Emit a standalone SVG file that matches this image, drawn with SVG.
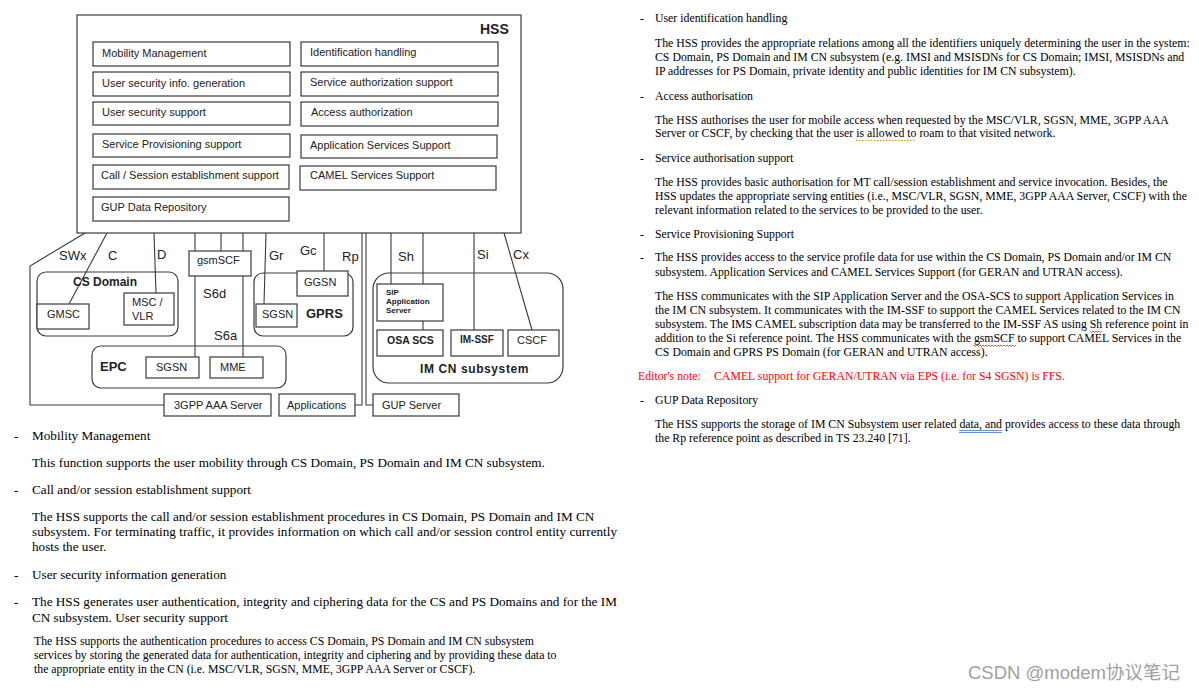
<svg xmlns="http://www.w3.org/2000/svg" width="1199" height="691" viewBox="0 0 1199 691">
<style>
.bx{fill:#fff;stroke:#3a3a3a;stroke-width:1.2}
.rr{fill:none;stroke:#3a3a3a;stroke-width:1.2}
.ln{fill:none;stroke:#3a3a3a;stroke-width:1.1}
.t{font-family:"Liberation Sans",Arial,sans-serif;font-size:11px;fill:#222}
.lb{font-family:"Liberation Sans",Arial,sans-serif;font-size:13px;fill:#222}
.b{font-family:"Liberation Sans",Arial,sans-serif;font-weight:bold;fill:#222}
.p{font-family:"Liberation Serif","Times New Roman",serif;font-size:13.2px;fill:#000}
.ps{font-family:"Liberation Serif","Times New Roman",serif;font-size:11.8px;fill:#000}
.red{fill:#ff0000}
.dot{fill:none;stroke:#c89a00;stroke-width:1;stroke-dasharray:1.5 1.5}
.wav{fill:none;stroke:#e03030;stroke-width:0.8}
.dbl{fill:none;stroke:#4a78c8;stroke-width:0.8}
</style>
<rect width="1199" height="691" fill="#fff"/>

<g id="connectors">
<path class="ln" d="M85,233 L30,266 L30,405 L164,405"/>
<path class="ln" d="M107,233 L69,304"/>
<path class="ln" d="M154,233 L156,293"/>
<path class="ln" d="M221,233 L221,251"/>
<path class="ln" d="M195,233 L195,357"/>
<path class="ln" d="M243,233 L243,357"/>
<path class="ln" d="M266,233 L264,304"/>
<path class="ln" d="M324,233 L324,271"/>
<path class="ln" d="M362,233 L362,405 L355,405"/>
<path class="ln" d="M366,233 L366,405 L373,405"/>
<path class="ln" d="M391,233 L391,284"/>
<path class="ln" d="M423,233 L423,330"/>
<path class="ln" d="M474,233 L474,330"/>
<path class="ln" d="M504,233 L532,330"/>
<text class="lb" x="59" y="260">SWx</text>
<text class="lb" x="108" y="260">C</text>
<text class="lb" x="157" y="259">D</text>
<text class="lb" x="269" y="260">Gr</text>
<text class="lb" x="300" y="255">Gc</text>
<text class="lb" x="342" y="261">Rp</text>
<text class="lb" x="398" y="261">Sh</text>
<text class="lb" x="477" y="259">Si</text>
<text class="lb" x="513" y="259">Cx</text>
<text class="lb" x="203" y="298">S6d</text>
<text class="lb" x="214" y="340">S6a</text>
</g>

<g id="hss">
<rect class="bx" x="77" y="15" width="444" height="218" fill="none"/>
<text class="b" x="480" y="34" font-size="14">HSS</text>
</g>
<g id="mobility-management"><rect class="bx" x="93" y="42" width="197" height="24"/><text class="t" x="102" y="57">Mobility Management</text></g>
<g id="user-security-info-generation"><rect class="bx" x="93" y="72" width="197" height="24"/><text class="t" x="102" y="87">User security info. generation</text></g>
<g id="user-security-support"><rect class="bx" x="93" y="102" width="197" height="23"/><text class="t" x="102" y="116">User security support</text></g>
<g id="service-provisioning-support"><rect class="bx" x="93" y="134" width="197" height="23"/><text class="t" x="102" y="148">Service Provisioning support</text></g>
<g id="call-session-establishment"><rect class="bx" x="93" y="165" width="196" height="24"/><text class="t" x="101" y="179">Call / Session establishment support</text></g>
<g id="gup-data-repository"><rect class="bx" x="93" y="197" width="196" height="24"/><text class="t" x="101" y="211">GUP Data Repository</text></g>
<g id="identification-handling"><rect class="bx" x="301" y="42" width="197" height="24"/><text class="t" x="310" y="56">Identification handling</text></g>
<g id="service-authorization-support"><rect class="bx" x="301" y="72" width="197" height="24"/><text class="t" x="310" y="86">Service authorization support</text></g>
<g id="access-authorization"><rect class="bx" x="301" y="102" width="197" height="24"/><text class="t" x="311" y="116">Access authorization</text></g>
<g id="application-services-support"><rect class="bx" x="301" y="135" width="196" height="23"/><text class="t" x="310" y="149">Application Services Support</text></g>
<g id="camel-services-support"><rect class="bx" x="300" y="166" width="196" height="24"/><text class="t" x="310" y="179">CAMEL Services Support</text></g>

<g id="cs-domain">
<rect class="rr" x="37" y="272" width="141" height="64" rx="9"/>
<text class="b" x="73" y="286" font-size="12">CS Domain</text>
</g>
<g id="gmsc"><rect class="bx" x="37" y="304" width="52" height="25"/><text class="t" x="47" y="318" font-size="10.5">GMSC</text></g>
<g id="msc-vlr"><rect class="bx" x="124" y="293" width="50" height="32"/><text class="t" x="132" y="306" font-size="10.5">MSC /</text><text class="t" x="132" y="320" font-size="10.5">VLR</text></g>
<g id="gsmscf"><rect class="bx" x="189" y="251" width="62" height="25" fill="none"/><text class="t" x="197" y="264">gsmSCF</text></g>

<g id="gprs">
<rect class="rr" x="254" y="273" width="99" height="63" rx="9"/>
<text class="b" x="306" y="318" font-size="13">GPRS</text>
</g>
<g id="ggsn"><rect class="bx" x="297" y="271" width="51" height="25"/><text class="t" x="304" y="286">GGSN</text></g>
<g id="sgsn-gprs"><rect class="bx" x="256" y="304" width="41" height="23"/><text class="t" x="262" y="318">SGSN</text></g>

<g id="epc">
<rect class="rr" x="92" y="346" width="194" height="42" rx="9"/>
<text class="b" x="100" y="371" font-size="13">EPC</text>
</g>
<g id="sgsn-epc"><rect class="bx" x="146" y="357" width="53" height="21"/><text class="t" x="156" y="371">SGSN</text></g>
<g id="mme"><rect class="bx" x="210" y="357" width="53" height="21"/><text class="t" x="220" y="371">MME</text></g>

<g id="aaa-server"><rect class="bx" x="164" y="394" width="107" height="22"/><text class="t" x="174" y="409">3GPP AAA Server</text></g>
<g id="applications"><rect class="bx" x="279" y="394" width="76" height="22"/><text class="t" x="287" y="409">Applications</text></g>
<g id="gup-server"><rect class="bx" x="373" y="394" width="86" height="22"/><text class="t" x="382" y="409">GUP Server</text></g>

<g id="im-cn-subsystem">
<rect class="rr" x="373" y="273" width="190" height="110" rx="16"/>
<text class="b" x="420" y="373" font-size="12" letter-spacing="0.6">IM CN subsystem</text>
</g>
<g id="sip-as"><rect class="bx" x="377" y="284" width="66" height="37" fill="none"/><text class="b" x="386" y="295" font-size="8">SIP</text><text class="b" x="386" y="304" font-size="8">Application</text><text class="b" x="386" y="313" font-size="8">Server</text></g>
<g id="osa-scs"><rect class="bx" x="377" y="330" width="66" height="26"/><text class="b" x="387" y="344" font-size="10.5">OSA SCS</text></g>
<g id="im-ssf"><rect class="bx" x="451" y="330" width="52" height="26"/><text class="b" x="460" y="343" font-size="10">IM-SSF</text></g>
<g id="cscf"><rect class="bx" x="508" y="330" width="51" height="26"/><text class="t" x="517" y="344" font-size="12">CSCF</text></g>

<g id="left-text">
<text class="p" x="14" y="440">-</text><text class="p" x="32" y="440">Mobility Management</text>
<text class="p" x="32" y="467">This function supports the user mobility through CS Domain, PS Domain and IM CN subsystem.</text>
<text class="p" x="14" y="494">-</text><text class="p" x="32" y="494">Call and/or session establishment support</text>
<text class="p" x="32" y="521">The HSS supports the call and/or session establishment procedures in CS Domain, PS Domain and IM CN</text>
<text class="p" x="32" y="536">subsystem. For terminating traffic, it provides information on which call and/or session control entity currently</text>
<text class="p" x="32" y="551">hosts the user.</text>
<text class="p" x="14" y="579">-</text><text class="p" x="32" y="579">User security information generation</text>
<text class="p" x="14" y="606">-</text><text class="p" x="32" y="606">The HSS generates user authentication, integrity and ciphering data for the CS and PS Domains and for the IM</text>
<text class="p" x="32" y="622">CN subsystem. User security support</text>
<text class="ps" x="34" y="645">The HSS supports the authentication procedures to access CS Domain, PS Domain and IM CN subsystem</text>
<text class="ps" x="34" y="659">services by storing the generated data for authentication, integrity and ciphering and by providing these data to</text>
<text class="ps" x="34" y="673">the appropriate entity in the CN (i.e. MSC/VLR, SGSN, MME, 3GPP AAA Server or CSCF).</text>
</g>

<g id="right-text">
<text class="ps" x="640" y="22">-</text><text class="ps" x="655" y="22">User identification handling</text>
<text class="ps" x="655" y="47">The HSS provides the appropriate relations among all the identifiers uniquely determining the user in the system:</text>
<text class="ps" x="655" y="61">CS Domain, PS Domain and IM CN subsystem (e.g. IMSI and MSISDNs for CS Domain; IMSI, MSISDNs and</text>
<text class="ps" x="655" y="75">IP addresses for PS Domain, private identity and public identities for IM CN subsystem).</text>
<text class="ps" x="640" y="100">-</text><text class="ps" x="655" y="100">Access authorisation</text>
<text class="ps" x="655" y="124">The HSS authorises the user for mobile access when requested by the MSC/VLR, SGSN, MME, 3GPP AAA</text>
<text class="ps" x="655" y="137">Server or CSCF, by checking that the user is allowed to roam to that visited network.</text>
<text class="ps" x="640" y="162">-</text><text class="ps" x="655" y="162">Service authorisation support</text>
<text class="ps" x="655" y="186">The HSS provides basic authorisation for MT call/session establishment and service invocation. Besides, the</text>
<text class="ps" x="655" y="200">HSS updates the appropriate serving entities (i.e., MSC/VLR, SGSN, MME, 3GPP AAA Server, CSCF) with the</text>
<text class="ps" x="655" y="214">relevant information related to the services to be provided to the user.</text>
<text class="ps" x="640" y="238">-</text><text class="ps" x="655" y="238">Service Provisioning Support</text>
<text class="ps" x="640" y="261">-</text><text class="ps" x="655" y="261">The HSS provides access to the service profile data for use within the CS Domain, PS Domain and/or IM CN</text>
<text class="ps" x="655" y="276">subsystem. Application Services and CAMEL Services Support (for GERAN and UTRAN access).</text>
<text class="ps" x="655" y="300">The HSS communicates with the SIP Application Server and the OSA-SCS to support Application Services in</text>
<text class="ps" x="655" y="314">the IM CN subsystem. It communicates with the IM-SSF to support the CAMEL Services related to the IM CN</text>
<text class="ps" x="655" y="328">subsystem. The IMS CAMEL subscription data may be transferred to the IM-SSF AS using Sh reference point in</text>
<text class="ps" x="655" y="342">addition to the Si reference point. The HSS communicates with the gsmSCF to support CAMEL Services in the</text>
<text class="ps" x="655" y="356">CS Domain and GPRS PS Domain (for GERAN and UTRAN access).</text>
<text class="ps red" x="638" y="380">Editor's note:</text><text class="ps red" x="714" y="380">CAMEL support for GERAN/UTRAN via EPS (i.e. for S4 SGSN) is FFS.</text>
<text class="ps" x="640" y="404">-</text><text class="ps" x="655" y="404">GUP Data Repository</text>
<text class="ps" x="655" y="428">The HSS supports the storage of IM CN Subsystem user related data, and provides access to these data through</text>
<text class="ps" x="655" y="442">the Rp reference point as described in TS 23.240 [71].</text>
</g>

<g id="proofing-marks">
<path class="dot" d="M856,140.5 H916"/>
<path class="wav" d="M1090,331 l1.5,1.5 l1.5,-1.5 l1.5,1.5 l1.5,-1.5 l1.5,1.5 l1.5,-1.5 l1.5,1.5 l1.5,-1.5"/>
<path class="wav" d="M974,345 l1.5,1.5 l1.5,-1.5 l1.5,1.5 l1.5,-1.5 l1.5,1.5 l1.5,-1.5 l1.5,1.5 l1.5,-1.5 l1.5,1.5 l1.5,-1.5 l1.5,1.5 l1.5,-1.5 l1.5,1.5 l1.5,-1.5 l1.5,1.5 l1.5,-1.5 l1.5,1.5 l1.5,-1.5 l1.5,1.5 l1.5,-1.5 l1.5,1.5 l1.5,-1.5 l1.5,1.5 l1.5,-1.5 l1.5,1.5 l1.5,-1.5 l1.5,1.5 l1.5,-1.5"/>
<path class="dbl" d="M959,430.5 H1002 M959,432.5 H1002"/>
</g>

<text x="968" y="679" font-family="'Liberation Sans','Noto Sans CJK SC',sans-serif" font-size="18.5" fill="#a0a0a0">CSDN @modem协议笔记</text>
</svg>
